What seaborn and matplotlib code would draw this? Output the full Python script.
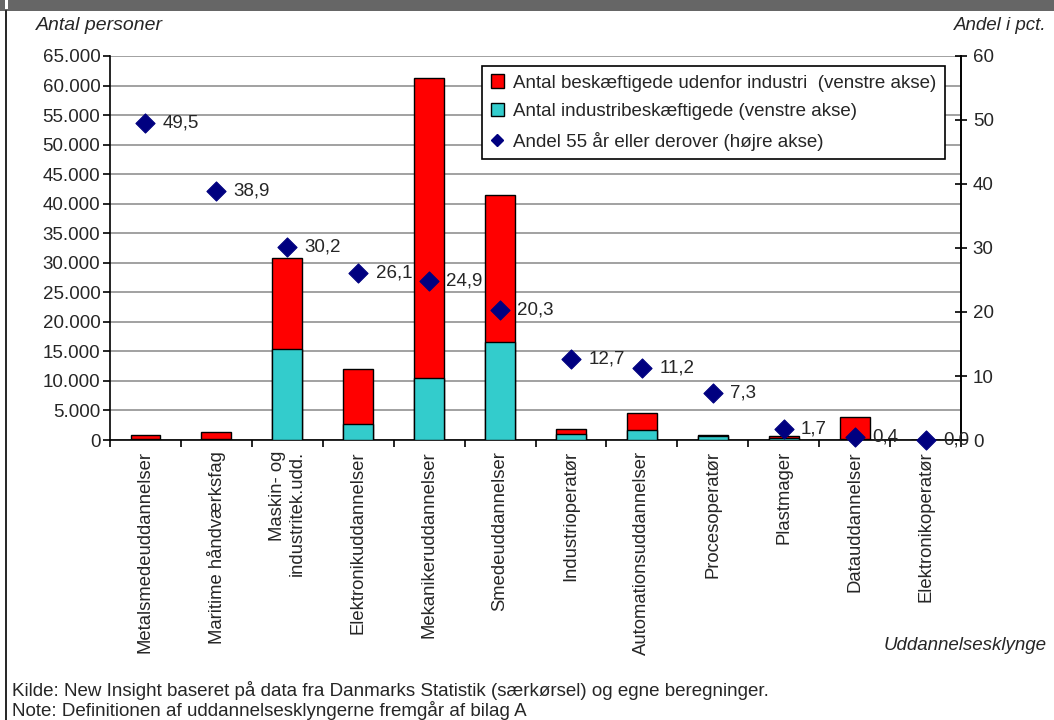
import numpy as np
import pandas as pd
import matplotlib
matplotlib.use("Agg")
import matplotlib.pyplot as plt
import seaborn as sns
from matplotlib.patches import Patch, Rectangle
from matplotlib.lines import Line2D
from matplotlib.ticker import FuncFormatter, MultipleLocator

categories = ["Metalsmedeuddannelser", "Maritime håndværksfag", "Maskin- og\nindustritek.udd.",
              "Elektronikuddannelser", "Mekanikeruddannelser", "Smedeuddannelser",
              "Industrioperatør", "Automationsuddannelser", "Procesoperatør",
              "Plastmager", "Datauddannelser", "Elektronikoperatør"]
industri = [100, 100, 15400, 2700, 10500, 16600, 1100, 1700, 700, 300, 200, 0]
udenfor = [800, 1200, 15400, 9300, 50700, 24900, 800, 2800, 200, 300, 3700, 0]
andel55 = [49.5, 38.9, 30.2, 26.1, 24.9, 20.3, 12.7, 11.2, 7.3, 1.7, 0.4, 0.0]

legend_labels = ["Antal beskæftigede udenfor industri  (venstre akse)",
                 "Antal industribeskæftigede (venstre akse)",
                 "Andel 55 år eller derover (højre akse)"]

RED = "#FF0000"
CYAN = "#33CCCC"
NAVY = "#000080"

df = pd.DataFrame({"kat": categories, "industri": industri, "udenfor": udenfor, "andel": andel55})
df["total"] = df["industri"] + df["udenfor"]
df["pos"] = np.arange(len(df))

sns.set_theme(style="white")
plt.rcParams["font.family"] = ["Liberation Sans", "DejaVu Sans"]

FS = 13.5

fig = plt.figure(figsize=(10.54, 7.2), dpi=100)
ax = fig.add_axes([110/1054, 1-440/720, (961-110)/1054, (440-56)/720])

sns.barplot(data=df, x="kat", y="total", color=RED, saturation=1, width=0.42,
            edgecolor="black", linewidth=1, ax=ax, zorder=3)
sns.barplot(data=df, x="kat", y="industri", color=CYAN, saturation=1, width=0.42,
            edgecolor="black", linewidth=1, ax=ax, zorder=3)

ax.set_ylim(0, 65000)
ax.set_xlim(-0.5, len(df) - 0.5)
ax.yaxis.set_major_locator(MultipleLocator(5000))
ax.yaxis.set_major_formatter(FuncFormatter(lambda v, p: f"{v:,.0f}".replace(",", ".")))
ax.grid(axis="y", color="#9a9a9a", linewidth=1.3, zorder=0)
ax.set_axisbelow(True)
ax.set_xlabel("")
ax.set_ylabel("")
for s in ["left", "bottom", "right"]:
    ax.spines[s].set_color("black")
    ax.spines[s].set_linewidth(1.2)
ax.spines["top"].set_visible(False)
ax.tick_params(axis="y", which="major", direction="out", length=5, width=1.2,
               color="black", labelsize=FS, pad=2, left=True)

ax2 = ax.twinx()
sns.scatterplot(data=df, x="pos", y="andel", marker="D", s=95, color=NAVY,
                edgecolor=NAVY, ax=ax2, zorder=5, clip_on=False, legend=False)
ax2.set_ylim(0, 60)
ax2.yaxis.set_major_locator(MultipleLocator(10))
ax2.set_ylabel("")
for s in ["left", "bottom", "top"]:
    ax2.spines[s].set_visible(False)
ax2.spines["right"].set_color("black")
ax2.spines["right"].set_linewidth(1.2)
ax2.tick_params(axis="y", which="major", direction="inout", length=9, width=1.2,
                color="black", labelsize=FS, pad=4, right=True)
ax2.grid(False)
for x, v in zip(df["pos"], df["andel"]):
    ax2.annotate(f"{v:.1f}".replace(".", ","), (x, v), xytext=(12.5, 0),
                 textcoords="offset points", va="center", ha="left", fontsize=FS,
                 annotation_clip=False, zorder=6)

ax.set_xlim(-0.5, len(df) - 0.5)
ax.set_xticks(df["pos"])
ax.set_xticklabels(df["kat"], rotation=90, ha="center", va="top", fontsize=13.3,
                   multialignment="right")
ax.tick_params(axis="x", which="major", length=0, pad=8)
ax.set_xticks(np.arange(len(df) + 1) - 0.5, minor=True)
ax.tick_params(axis="x", which="minor", direction="out", length=5, width=1.2,
               color="black", bottom=True)

handles = [Patch(facecolor=RED, edgecolor="black", linewidth=1),
           Patch(facecolor=CYAN, edgecolor="black", linewidth=1),
           Line2D([], [], marker="D", color=NAVY, linestyle="none", markersize=6)]
leg = ax2.legend(handles, legend_labels, loc="upper right",
                 bbox_to_anchor=((945-110)/851, (440-66)/384), borderaxespad=0,
                 fontsize=FS, frameon=True, fancybox=False, framealpha=1,
                 edgecolor="black", handlelength=0.7, handleheight=0.7,
                 handletextpad=0.5, labelspacing=0.62, borderpad=0.45)
leg.get_frame().set_linewidth(1.2)
leg.set_zorder(10)

fig.text(36/1054, 1-25/720, "Antal personer", style="italic", fontsize=14, va="center", ha="left")
fig.text(1047/1054, 1-25/720, "Andel i pct.", style="italic", fontsize=FS, va="center", ha="right")
fig.text(1047/1054, 1-645/720, "Uddannelsesklynge", style="italic", fontsize=FS, va="center", ha="right")
fig.text(12/1054, 1-690/720, "Kilde: New Insight baseret på data fra Danmarks Statistik (særkørsel) og egne beregninger.",
         fontsize=FS, va="center", ha="left")
fig.text(12/1054, 1-711/720, "Note: Definitionen af uddannelsesklyngerne fremgår af bilag A",
         fontsize=FS, va="center", ha="left")

fig.patches.append(Rectangle((0, 1-11/720), 1, 11/720, transform=fig.transFigure,
                             facecolor="#666666", edgecolor="none", zorder=0))
fig.patches.append(Rectangle((5/1054, 1-9/720), 2.5/1054, 9/720, transform=fig.transFigure,
                             facecolor="white", edgecolor="none", zorder=1))
fig.lines.append(Line2D([5.5/1054, 5.5/1054], [0, 1-11/720], transform=fig.transFigure,
                        color="black", linewidth=1.2))

fig.savefig("out.png", dpi=100)
